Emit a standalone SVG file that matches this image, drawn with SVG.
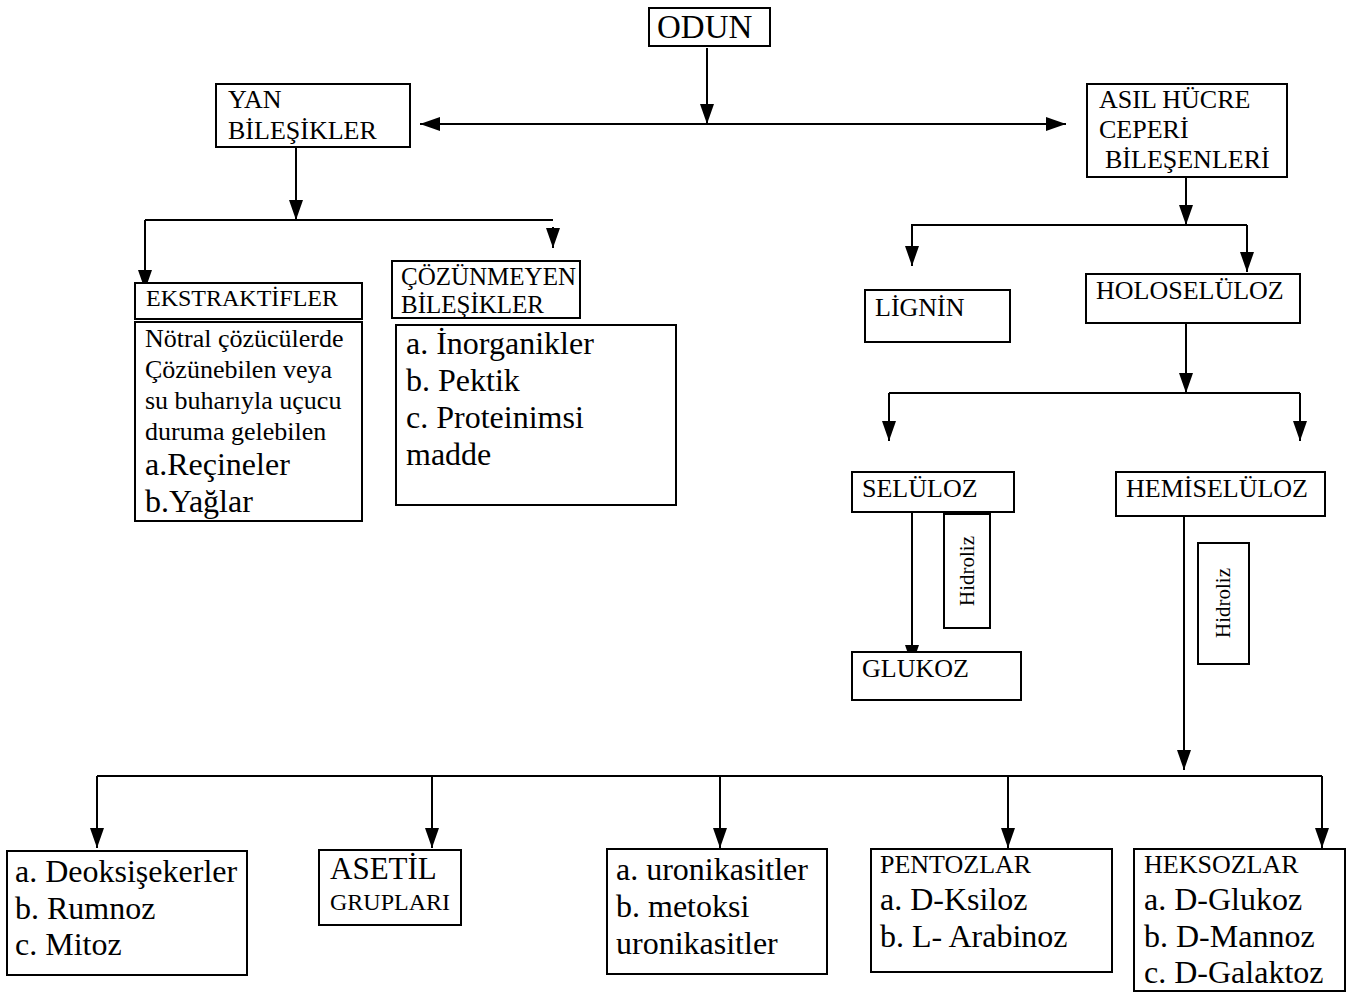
<svg xmlns="http://www.w3.org/2000/svg" width="1354" height="992" viewBox="0 0 1354 992">
<defs>
<marker id="ah" markerUnits="userSpaceOnUse" markerWidth="22" markerHeight="16" refX="20" refY="7" orient="auto-start-reverse">
<path d="M0,0 L20,7 L0,14 z" fill="#000"/>
</marker>
<style>
.b{fill:#fff;stroke:#000;stroke-width:2}
.t{font-family:"Liberation Serif","Times New Roman",serif;fill:#000}
.s20{font-size:20px}.s24{font-size:24px}.s26{font-size:26px}.s32{font-size:32px}
.c{fill:none;stroke:#000;stroke-width:2}
.a{fill:none;stroke:#000;stroke-width:2;marker-end:url(#ah)}
</style>
</defs>
<rect width="1354" height="992" fill="#fff"/>

<g id="connectors">
<path class="a" d="M707,48 V124"/>
<path class="a" style="marker-start:url(#ah)" d="M420,124 H1066"/>
<path class="a" d="M296,147 V220"/>
<path class="c" d="M553,220 H145"/>
<path class="a" d="M145,220 V290"/>
<path class="a" d="M553,227 V248"/>
<path class="a" d="M1186,177 V225"/>
<path class="a" d="M1247,225 H912 V266"/>
<path class="a" d="M1247,225 V272"/>
<path class="a" d="M1186,322 V393"/>
<path class="c" d="M889,393 H1300"/>
<path class="a" d="M889,393 V441"/>
<path class="a" d="M1300,393 V441"/>
<path class="a" d="M912,512 V665"/>
<path class="a" d="M1184,508 V770"/>
<path class="c" d="M97,776 H1322"/>
<path class="a" d="M97,776 V848"/>
<path class="a" d="M432,776 V848"/>
<path class="a" d="M720,776 V848"/>
<path class="a" d="M1008,776 V848"/>
<path class="a" d="M1322,776 V848"/>
</g>

<g id="odun"><rect class="b" x="649" y="8" width="121" height="38"/><text class="t" x="657" y="38" font-size="33">ODUN</text></g>

<g id="yan"><rect class="b" x="216" y="84" width="194" height="63"/>
<text class="t s26"><tspan x="228" y="108">YAN</tspan><tspan x="228" y="139">BİLEŞİKLER</tspan></text></g>

<g id="asil"><rect class="b" x="1087" y="84" width="200" height="93"/>
<text class="t s26"><tspan x="1099" y="108">ASIL HÜCRE</tspan><tspan x="1099" y="138">CEPERİ</tspan><tspan x="1105" y="168">BİLEŞENLERİ</tspan></text></g>

<g id="ekstraktifler"><rect class="b" x="135" y="283" width="227" height="36"/>
<text class="t s24" x="146" y="306">EKSTRAKTİFLER</text></g>

<g id="ekstraktifler-detay"><rect class="b" x="135" y="322" width="227" height="199"/>
<text class="t s26"><tspan x="145" y="347">Nötral çözücülerde</tspan><tspan x="145" y="378">Çözünebilen veya</tspan><tspan x="145" y="409">su buharıyla uçucu</tspan><tspan x="145" y="440">duruma gelebilen</tspan></text>
<text class="t s32"><tspan x="145" y="475">a.Reçineler</tspan><tspan x="145" y="512">b.Yağlar</tspan></text></g>

<g id="cozunmeyen"><rect class="b" x="392" y="261" width="188" height="57"/>
<text class="t" font-size="25"><tspan x="401" y="285">ÇÖZÜNMEYEN</tspan><tspan x="401" y="313">BİLEŞİKLER</tspan></text></g>

<g id="cozunmeyen-detay"><rect class="b" x="396" y="325" width="280" height="180"/>
<text class="t s32"><tspan x="406" y="354">a. İnorganikler</tspan><tspan x="406" y="391">b. Pektik</tspan><tspan x="406" y="428">c. Proteinimsi</tspan><tspan x="406" y="465">madde</tspan></text></g>

<g id="lignin"><rect class="b" x="865" y="290" width="145" height="52"/>
<text class="t s26" x="875" y="316">LİGNİN</text></g>

<g id="holoseluloz"><rect class="b" x="1086" y="274" width="214" height="49"/>
<text class="t s26" x="1096" y="299">HOLOSELÜLOZ</text></g>

<g id="seluloz"><rect class="b" x="852" y="472" width="162" height="40"/>
<text class="t s26" x="862" y="497">SELÜLOZ</text></g>

<g id="hidroliz1"><rect class="b" x="944" y="514" width="46" height="114"/>
<text class="t" font-size="21" text-anchor="middle" transform="translate(974,571) rotate(-90)">Hidroliz</text></g>

<g id="glukoz"><rect class="b" x="852" y="652" width="169" height="48"/>
<text class="t s26" x="862" y="677">GLUKOZ</text></g>

<g id="hemiseluloz"><rect class="b" x="1116" y="472" width="209" height="44"/>
<text class="t s26" x="1126" y="497">HEMİSELÜLOZ</text></g>

<g id="hidroliz2"><rect class="b" x="1198" y="543" width="51" height="121"/>
<text class="t" font-size="21" text-anchor="middle" transform="translate(1230,603) rotate(-90)">Hidroliz</text></g>

<g id="deoksi"><rect class="b" x="7" y="851" width="240" height="124"/>
<text class="t s32"><tspan x="15" y="882">a. Deoksişekerler</tspan><tspan x="15" y="919">b. Rumnoz</tspan><tspan x="15" y="955">c. Mitoz</tspan></text></g>

<g id="asetil"><rect class="b" x="319" y="850" width="142" height="75"/>
<text class="t" x="330" y="879" font-size="31">ASETİL</text>
<text class="t s24" x="330" y="910">GRUPLARI</text></g>

<g id="uronik"><rect class="b" x="607" y="849" width="220" height="125"/>
<text class="t s32"><tspan x="616" y="880">a. uronikasitler</tspan><tspan x="616" y="917">b. metoksi</tspan><tspan x="616" y="954">uronikasitler</tspan></text></g>

<g id="pentozlar"><rect class="b" x="871" y="849" width="241" height="123"/>
<text class="t s26" x="880" y="873">PENTOZLAR</text>
<text class="t s32"><tspan x="880" y="910">a. D-Ksiloz</tspan><tspan x="880" y="947">b. L- Arabinoz</tspan></text></g>

<g id="heksozlar"><rect class="b" x="1134" y="849" width="211" height="142"/>
<text class="t s26" x="1144" y="873">HEKSOZLAR</text>
<text class="t s32"><tspan x="1144" y="910">a. D-Glukoz</tspan><tspan x="1144" y="947">b. D-Mannoz</tspan><tspan x="1144" y="983">c. D-Galaktoz</tspan></text></g>
</svg>
